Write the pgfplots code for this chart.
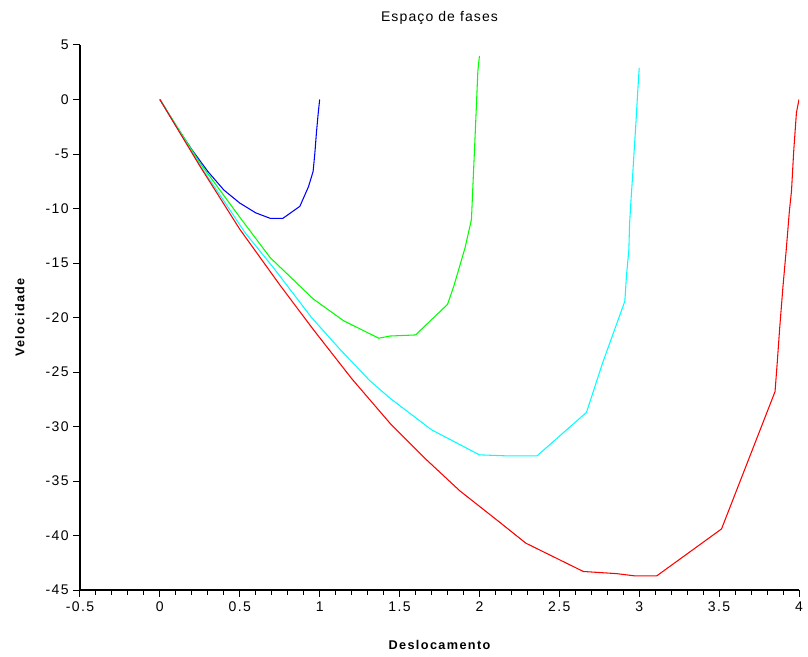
\documentclass[border=0pt]{standalone}
\usepackage{fontspec}
\setmainfont{Liberation Sans}
\usepackage{pgfplots}
\pgfplotsset{compat=1.18}
\definecolor{sblue}{RGB}{0,0,255}
\definecolor{sgreen}{RGB}{0,255,0}
\definecolor{scyan}{RGB}{0,255,255}
\definecolor{sred}{RGB}{255,0,0}
\begin{document}
\begin{tikzpicture}
\begin{axis}[
  scale only axis,
  width=539.25pt, height=408.75pt,
  xmin=-0.5, xmax=4, ymin=-45, ymax=5,
  axis lines*=left,
  axis line style={black, line width=0.9pt},
  xtick={-0.5,0,...,4},
  ytick={-45,-40,...,5},
  minor x tick num=4,
  tick align=outside,
  major tick length=5pt,
  minor tick length=3.5pt,
  tick style={black, line width=0.75pt},
  /pgf/number format/assume math mode=true,
  tick label style={font=\fontsize{10.5}{12}\selectfont\addfontfeatures{LetterSpace=10}},
  every axis title shift=0pt,
  title={Espaço de fases},
  title style={font=\fontsize{10.5}{12}\selectfont\addfontfeatures{LetterSpace=8}, at={(axis description cs:0.5,1.049)}, anchor=center},
  xlabel={Deslocamento},
  ylabel={Velocidade},
  xlabel style={font=\fontsize{9.5}{11}\selectfont\bfseries\addfontfeatures{LetterSpace=11}, at={(axis description cs:0.5,-0.1)}, anchor=center},
  ylabel style={font=\fontsize{9.5}{11}\selectfont\bfseries\addfontfeatures{LetterSpace=11}, at={(axis description cs:-0.0835,0.5)}, anchor=center},
  every axis plot/.append style={line width=0.8pt},
]
\addplot[sblue] coordinates {
(0,0) (0.1,-2.4) (0.2,-4.6) (0.3,-6.6) (0.4,-8.3) (0.5,-9.5) (0.6,-10.4) (0.69,-10.9) (0.77,-10.9) (0.876,-9.8) (0.93,-8.0) (0.959,-6.6) (0.97,-4.9) (0.98,-3.0) (0.99,-1.4) (1.0,0)
};
\addplot[sgreen] coordinates {
(0,0) (0.25,-5.8) (0.5,-10.8) (0.69,-14.5) (0.96,-18.3) (1.15,-20.3) (1.37,-21.9) (1.44,-21.7) (1.6,-21.6) (1.8,-18.8) (1.84,-17.1) (1.91,-13.6) (1.95,-11.0) (1.96,-7.6) (1.97,-4.3) (1.98,-0.9) (1.99,2.6) (2.0,4.0)
};
\addplot[scyan] coordinates {
(0,0) (0.25,-6.0) (0.532,-12.2) (0.709,-15.4) (0.949,-20.0) (1.126,-22.9) (1.314,-25.8) (1.44,-27.4) (1.70,-30.3) (2.0,-32.6) (2.18,-32.7) (2.36,-32.7) (2.67,-28.7) (2.77,-24.2) (2.91,-18.5) (2.92,-16.2) (2.935,-13.8) (2.94,-11.3) (2.95,-8.9) (2.96,-6.7) (2.97,-4.3) (2.98,-2.0) (2.99,0.6) (3.0,2.9)
};
\addplot[sred] coordinates {
(0,0) (0.25,-6.1) (0.5,-11.9) (0.75,-17.0) (0.96,-21.1) (1.2,-25.6) (1.44,-29.7) (1.65,-32.8) (1.877,-35.9) (2.128,-38.8) (2.29,-40.7) (2.65,-43.3) (2.86,-43.5) (2.97,-43.7) (3.11,-43.7) (3.515,-39.4) (3.85,-26.8) (3.863,-24.3) (3.88,-20.8) (3.90,-17.1) (3.92,-13.8) (3.94,-10.2) (3.953,-8.4) (3.967,-4.7) (3.984,-1.2) (4.0,0)
};
\end{axis}
\pgfresetboundingbox
\useasboundingbox ([xshift=-60pt,yshift=-49.5pt]current axis.south west) rectangle ([xshift=6.75pt,yshift=33.75pt]current axis.north east);
\end{tikzpicture}
\end{document}
